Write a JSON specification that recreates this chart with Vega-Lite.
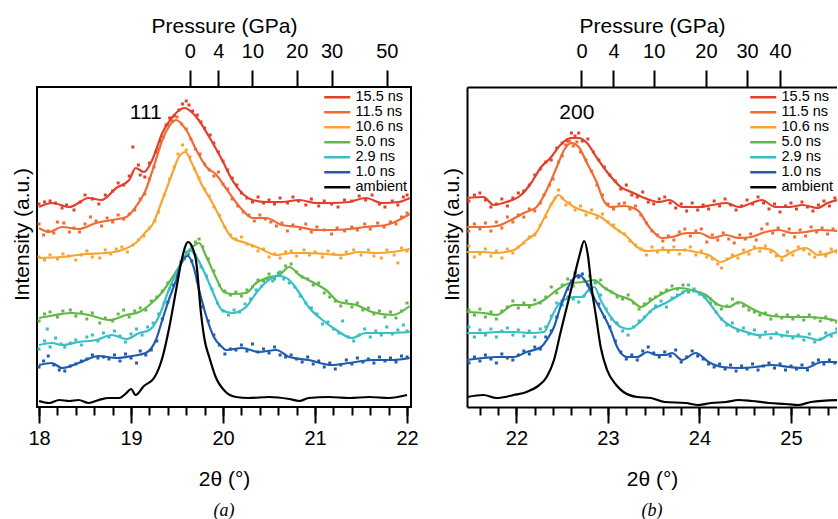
{
"$schema": "https://vega.github.io/schema/vega-lite/v6.json",
"background": "white",
"padding": {"left": 10, "top": 14, "right": 0, "bottom": 0},
"spacing": 21,
"config": {
 "font": "Liberation Sans",
 "view": {"stroke": "black", "strokeWidth": 2},
 "axis": {"grid": false, "tickColor": "black", "tickWidth": 2, "domainColor": "black", "domainWidth": 2, "labelColor": "black", "titleColor": "black", "labelFont": "Liberation Sans", "titleFont": "Liberation Sans", "labelFontSize": 20, "titleFontSize": 21, "titleFontWeight": "normal"},
 "legend": {"labelFont": "Liberation Sans", "labelFontSize": 14.5, "labelColor": "black", "symbolType": "M-3,0H3", "symbolSize": 75, "symbolStrokeWidth": 2.5, "labelOffset": 11, "rowPadding": 0, "orient": "top-right", "offset": 3, "padding": 0},
 "text": {"font": "Liberation Sans"}
},
"datasets": {
"la": [
{"s":"15.5 ns","x":18.0,"y":200},{"s":"15.5 ns","x":18.14,"y":204},{"s":"15.5 ns","x":18.33,"y":200},{"s":"15.5 ns","x":18.54,"y":209},{"s":"15.5 ns","x":18.68,"y":207},{"s":"15.5 ns","x":18.84,"y":219},{"s":"15.5 ns","x":18.98,"y":227},{"s":"15.5 ns","x":19.05,"y":239},{"s":"15.5 ns","x":19.14,"y":235},{"s":"15.5 ns","x":19.23,"y":247},{"s":"15.5 ns","x":19.34,"y":274},{"s":"15.5 ns","x":19.45,"y":290},{"s":"15.5 ns","x":19.58,"y":299},{"s":"15.5 ns","x":19.71,"y":290},{"s":"15.5 ns","x":19.85,"y":270},{"s":"15.5 ns","x":19.99,"y":247},{"s":"15.5 ns","x":20.1,"y":227},{"s":"15.5 ns","x":20.32,"y":207},{"s":"15.5 ns","x":20.47,"y":205},{"s":"15.5 ns","x":20.64,"y":205},{"s":"15.5 ns","x":20.83,"y":207},{"s":"15.5 ns","x":21.01,"y":204},{"s":"15.5 ns","x":21.18,"y":204},{"s":"15.5 ns","x":21.37,"y":205},{"s":"15.5 ns","x":21.55,"y":209},{"s":"15.5 ns","x":21.73,"y":204},{"s":"15.5 ns","x":21.91,"y":205},{"s":"15.5 ns","x":22.03,"y":209},
{"s":"11.5 ns","x":18.0,"y":179},{"s":"11.5 ns","x":18.11,"y":175},{"s":"11.5 ns","x":18.25,"y":180},{"s":"11.5 ns","x":18.43,"y":178},{"s":"11.5 ns","x":18.62,"y":184},{"s":"11.5 ns","x":18.79,"y":187},{"s":"11.5 ns","x":18.95,"y":190},{"s":"11.5 ns","x":19.05,"y":200},{"s":"11.5 ns","x":19.16,"y":217},{"s":"11.5 ns","x":19.27,"y":247},{"s":"11.5 ns","x":19.34,"y":267},{"s":"11.5 ns","x":19.41,"y":280},{"s":"11.5 ns","x":19.49,"y":287},{"s":"11.5 ns","x":19.6,"y":277},{"s":"11.5 ns","x":19.71,"y":257},{"s":"11.5 ns","x":19.82,"y":240},{"s":"11.5 ns","x":19.92,"y":233},{"s":"11.5 ns","x":20.03,"y":219},{"s":"11.5 ns","x":20.21,"y":197},{"s":"11.5 ns","x":20.32,"y":189},{"s":"11.5 ns","x":20.47,"y":189},{"s":"11.5 ns","x":20.64,"y":182},{"s":"11.5 ns","x":20.83,"y":180},{"s":"11.5 ns","x":21.01,"y":177},{"s":"11.5 ns","x":21.18,"y":177},{"s":"11.5 ns","x":21.37,"y":178},{"s":"11.5 ns","x":21.55,"y":180},{"s":"11.5 ns","x":21.77,"y":182},{"s":"11.5 ns","x":21.91,"y":187},{"s":"11.5 ns","x":22.03,"y":193},
{"s":"10.6 ns","x":18.0,"y":149},{"s":"10.6 ns","x":18.25,"y":150},{"s":"10.6 ns","x":18.51,"y":153},{"s":"10.6 ns","x":18.73,"y":154},{"s":"10.6 ns","x":18.9,"y":157},{"s":"10.6 ns","x":19.05,"y":164},{"s":"10.6 ns","x":19.16,"y":175},{"s":"10.6 ns","x":19.23,"y":182},{"s":"10.6 ns","x":19.34,"y":207},{"s":"10.6 ns","x":19.45,"y":234},{"s":"10.6 ns","x":19.52,"y":250},{"s":"10.6 ns","x":19.59,"y":255},{"s":"10.6 ns","x":19.66,"y":244},{"s":"10.6 ns","x":19.77,"y":222},{"s":"10.6 ns","x":19.88,"y":205},{"s":"10.6 ns","x":19.98,"y":187},{"s":"10.6 ns","x":20.1,"y":169},{"s":"10.6 ns","x":20.25,"y":164},{"s":"10.6 ns","x":20.39,"y":159},{"s":"10.6 ns","x":20.58,"y":152},{"s":"10.6 ns","x":20.75,"y":154},{"s":"10.6 ns","x":20.93,"y":154},{"s":"10.6 ns","x":21.12,"y":153},{"s":"10.6 ns","x":21.29,"y":152},{"s":"10.6 ns","x":21.48,"y":155},{"s":"10.6 ns","x":21.66,"y":154},{"s":"10.6 ns","x":21.84,"y":155},{"s":"10.6 ns","x":22.03,"y":158},
{"s":"5.0 ns","x":18.0,"y":89},{"s":"5.0 ns","x":18.18,"y":92},{"s":"5.0 ns","x":18.36,"y":94},{"s":"5.0 ns","x":18.54,"y":92},{"s":"5.0 ns","x":18.76,"y":87},{"s":"5.0 ns","x":18.95,"y":92},{"s":"5.0 ns","x":19.09,"y":95},{"s":"5.0 ns","x":19.2,"y":102},{"s":"5.0 ns","x":19.34,"y":115},{"s":"5.0 ns","x":19.45,"y":130},{"s":"5.0 ns","x":19.55,"y":144},{"s":"5.0 ns","x":19.66,"y":159},{"s":"5.0 ns","x":19.74,"y":164},{"s":"5.0 ns","x":19.82,"y":150},{"s":"5.0 ns","x":19.92,"y":130},{"s":"5.0 ns","x":20.01,"y":115},{"s":"5.0 ns","x":20.1,"y":113},{"s":"5.0 ns","x":20.25,"y":114},{"s":"5.0 ns","x":20.36,"y":124},{"s":"5.0 ns","x":20.47,"y":129},{"s":"5.0 ns","x":20.61,"y":132},{"s":"5.0 ns","x":20.72,"y":140},{"s":"5.0 ns","x":20.83,"y":132},{"s":"5.0 ns","x":20.97,"y":125},{"s":"5.0 ns","x":21.12,"y":117},{"s":"5.0 ns","x":21.26,"y":105},{"s":"5.0 ns","x":21.45,"y":102},{"s":"5.0 ns","x":21.62,"y":95},{"s":"5.0 ns","x":21.84,"y":92},{"s":"5.0 ns","x":22.03,"y":101},
{"s":"2.9 ns","x":18.0,"y":62},{"s":"2.9 ns","x":18.14,"y":64},{"s":"2.9 ns","x":18.25,"y":62},{"s":"2.9 ns","x":18.43,"y":65},{"s":"2.9 ns","x":18.62,"y":67},{"s":"2.9 ns","x":18.79,"y":72},{"s":"2.9 ns","x":18.95,"y":68},{"s":"2.9 ns","x":19.09,"y":74},{"s":"2.9 ns","x":19.2,"y":77},{"s":"2.9 ns","x":19.3,"y":90},{"s":"2.9 ns","x":19.41,"y":117},{"s":"2.9 ns","x":19.49,"y":134},{"s":"2.9 ns","x":19.58,"y":150},{"s":"2.9 ns","x":19.64,"y":157},{"s":"2.9 ns","x":19.71,"y":150},{"s":"2.9 ns","x":19.82,"y":130},{"s":"2.9 ns","x":19.88,"y":117},{"s":"2.9 ns","x":19.99,"y":97},{"s":"2.9 ns","x":20.1,"y":94},{"s":"2.9 ns","x":20.25,"y":100},{"s":"2.9 ns","x":20.36,"y":114},{"s":"2.9 ns","x":20.47,"y":125},{"s":"2.9 ns","x":20.61,"y":131},{"s":"2.9 ns","x":20.72,"y":127},{"s":"2.9 ns","x":20.83,"y":114},{"s":"2.9 ns","x":20.93,"y":100},{"s":"2.9 ns","x":21.08,"y":87},{"s":"2.9 ns","x":21.23,"y":77},{"s":"2.9 ns","x":21.4,"y":69},{"s":"2.9 ns","x":21.55,"y":74},{"s":"2.9 ns","x":21.77,"y":74},{"s":"2.9 ns","x":22.03,"y":75},
{"s":"1.0 ns","x":18.0,"y":42},{"s":"1.0 ns","x":18.14,"y":44},{"s":"1.0 ns","x":18.25,"y":39},{"s":"1.0 ns","x":18.43,"y":44},{"s":"1.0 ns","x":18.65,"y":51},{"s":"1.0 ns","x":18.84,"y":49},{"s":"1.0 ns","x":19.01,"y":51},{"s":"1.0 ns","x":19.16,"y":54},{"s":"1.0 ns","x":19.27,"y":67},{"s":"1.0 ns","x":19.34,"y":87},{"s":"1.0 ns","x":19.41,"y":107},{"s":"1.0 ns","x":19.49,"y":127},{"s":"1.0 ns","x":19.55,"y":145},{"s":"1.0 ns","x":19.62,"y":151},{"s":"1.0 ns","x":19.68,"y":140},{"s":"1.0 ns","x":19.74,"y":117},{"s":"1.0 ns","x":19.82,"y":90},{"s":"1.0 ns","x":19.9,"y":70},{"s":"1.0 ns","x":19.99,"y":60},{"s":"1.0 ns","x":20.03,"y":57},{"s":"1.0 ns","x":20.21,"y":59},{"s":"1.0 ns","x":20.39,"y":55},{"s":"1.0 ns","x":20.58,"y":57},{"s":"1.0 ns","x":20.72,"y":50},{"s":"1.0 ns","x":20.93,"y":47},{"s":"1.0 ns","x":21.18,"y":42},{"s":"1.0 ns","x":21.37,"y":44},{"s":"1.0 ns","x":21.62,"y":47},{"s":"1.0 ns","x":21.84,"y":47},{"s":"1.0 ns","x":22.03,"y":49},
{"s":"ambient","x":18.0,"y":6},{"s":"ambient","x":18.11,"y":4},{"s":"ambient","x":18.22,"y":7},{"s":"ambient","x":18.33,"y":6},{"s":"ambient","x":18.43,"y":7},{"s":"ambient","x":18.54,"y":4},{"s":"ambient","x":18.65,"y":7},{"s":"ambient","x":18.76,"y":9},{"s":"ambient","x":18.87,"y":9},{"s":"ambient","x":18.95,"y":14},{"s":"ambient","x":19.0,"y":18},{"s":"ambient","x":19.05,"y":12},{"s":"ambient","x":19.14,"y":21},{"s":"ambient","x":19.25,"y":29},{"s":"ambient","x":19.34,"y":49},{"s":"ambient","x":19.41,"y":77},{"s":"ambient","x":19.49,"y":117},{"s":"ambient","x":19.55,"y":147},{"s":"ambient","x":19.62,"y":165},{"s":"ambient","x":19.66,"y":161},{"s":"ambient","x":19.71,"y":144},{"s":"ambient","x":19.76,"y":94},{"s":"ambient","x":19.8,"y":67},{"s":"ambient","x":19.85,"y":50},{"s":"ambient","x":19.92,"y":30},{"s":"ambient","x":20.03,"y":15},{"s":"ambient","x":20.14,"y":10},{"s":"ambient","x":20.28,"y":9},{"s":"ambient","x":20.5,"y":10},{"s":"ambient","x":20.72,"y":8},{"s":"ambient","x":20.83,"y":6},{"s":"ambient","x":20.93,"y":9},{"s":"ambient","x":21.15,"y":10},{"s":"ambient","x":21.37,"y":9},{"s":"ambient","x":21.59,"y":10},{"s":"ambient","x":21.8,"y":9},{"s":"ambient","x":22.0,"y":12}
],
"da": [
{"s":"15.5 ns","x":18.0,"y":203},{"s":"15.5 ns","x":18.06,"y":205},{"s":"15.5 ns","x":18.12,"y":206},{"s":"15.5 ns","x":18.18,"y":204},{"s":"15.5 ns","x":18.25,"y":199},{"s":"15.5 ns","x":18.3,"y":202},{"s":"15.5 ns","x":18.38,"y":197},{"s":"15.5 ns","x":18.45,"y":205},{"s":"15.5 ns","x":18.5,"y":212},{"s":"15.5 ns","x":18.58,"y":208},{"s":"15.5 ns","x":18.65,"y":203},{"s":"15.5 ns","x":18.72,"y":212},{"s":"15.5 ns","x":18.8,"y":216},{"s":"15.5 ns","x":18.86,"y":224},{"s":"15.5 ns","x":18.92,"y":222},{"s":"15.5 ns","x":18.98,"y":231},{"s":"15.5 ns","x":19.02,"y":260},{"s":"15.5 ns","x":19.08,"y":242},{"s":"15.5 ns","x":19.1,"y":232},{"s":"15.5 ns","x":19.15,"y":230},{"s":"15.5 ns","x":19.2,"y":244},{"s":"15.5 ns","x":19.27,"y":255},{"s":"15.5 ns","x":19.32,"y":266},{"s":"15.5 ns","x":19.38,"y":282},{"s":"15.5 ns","x":19.42,"y":289},{"s":"15.5 ns","x":19.47,"y":291},{"s":"15.5 ns","x":19.52,"y":297},{"s":"15.5 ns","x":19.56,"y":303},{"s":"15.5 ns","x":19.6,"y":306},{"s":"15.5 ns","x":19.63,"y":302},{"s":"15.5 ns","x":19.67,"y":296},{"s":"15.5 ns","x":19.72,"y":292},{"s":"15.5 ns","x":19.76,"y":285},{"s":"15.5 ns","x":19.8,"y":279},{"s":"15.5 ns","x":19.86,"y":272},{"s":"15.5 ns","x":19.9,"y":264},{"s":"15.5 ns","x":19.95,"y":255},{"s":"15.5 ns","x":20.0,"y":246},{"s":"15.5 ns","x":20.05,"y":237},{"s":"15.5 ns","x":20.1,"y":229},{"s":"15.5 ns","x":20.15,"y":222},{"s":"15.5 ns","x":20.2,"y":214},{"s":"15.5 ns","x":20.26,"y":209},{"s":"15.5 ns","x":20.32,"y":205},{"s":"15.5 ns","x":20.38,"y":210},{"s":"15.5 ns","x":20.44,"y":204},{"s":"15.5 ns","x":20.5,"y":207},{"s":"15.5 ns","x":20.56,"y":203},{"s":"15.5 ns","x":20.62,"y":209},{"s":"15.5 ns","x":20.7,"y":204},{"s":"15.5 ns","x":20.76,"y":210},{"s":"15.5 ns","x":20.82,"y":206},{"s":"15.5 ns","x":20.9,"y":202},{"s":"15.5 ns","x":20.96,"y":208},{"s":"15.5 ns","x":21.04,"y":201},{"s":"15.5 ns","x":21.1,"y":206},{"s":"15.5 ns","x":21.18,"y":203},{"s":"15.5 ns","x":21.25,"y":200},{"s":"15.5 ns","x":21.32,"y":207},{"s":"15.5 ns","x":21.4,"y":206},{"s":"15.5 ns","x":21.48,"y":211},{"s":"15.5 ns","x":21.55,"y":207},{"s":"15.5 ns","x":21.62,"y":212},{"s":"15.5 ns","x":21.7,"y":203},{"s":"15.5 ns","x":21.76,"y":200},{"s":"15.5 ns","x":21.84,"y":206},{"s":"15.5 ns","x":21.9,"y":202},{"s":"15.5 ns","x":21.96,"y":210},{"s":"15.5 ns","x":22.0,"y":212},
{"s":"11.5 ns","x":18.0,"y":183},{"s":"11.5 ns","x":18.05,"y":172},{"s":"11.5 ns","x":18.1,"y":176},{"s":"11.5 ns","x":18.16,"y":174},{"s":"11.5 ns","x":18.2,"y":185},{"s":"11.5 ns","x":18.27,"y":184},{"s":"11.5 ns","x":18.33,"y":175},{"s":"11.5 ns","x":18.38,"y":179},{"s":"11.5 ns","x":18.44,"y":175},{"s":"11.5 ns","x":18.5,"y":183},{"s":"11.5 ns","x":18.56,"y":190},{"s":"11.5 ns","x":18.62,"y":186},{"s":"11.5 ns","x":18.68,"y":181},{"s":"11.5 ns","x":18.74,"y":189},{"s":"11.5 ns","x":18.8,"y":185},{"s":"11.5 ns","x":18.86,"y":192},{"s":"11.5 ns","x":18.92,"y":188},{"s":"11.5 ns","x":18.98,"y":193},{"s":"11.5 ns","x":19.04,"y":197},{"s":"11.5 ns","x":19.1,"y":208},{"s":"11.5 ns","x":19.15,"y":213},{"s":"11.5 ns","x":19.2,"y":228},{"s":"11.5 ns","x":19.25,"y":240},{"s":"11.5 ns","x":19.3,"y":258},{"s":"11.5 ns","x":19.35,"y":270},{"s":"11.5 ns","x":19.4,"y":282},{"s":"11.5 ns","x":19.45,"y":286},{"s":"11.5 ns","x":19.5,"y":290},{"s":"11.5 ns","x":19.55,"y":283},{"s":"11.5 ns","x":19.6,"y":278},{"s":"11.5 ns","x":19.65,"y":268},{"s":"11.5 ns","x":19.7,"y":258},{"s":"11.5 ns","x":19.75,"y":253},{"s":"11.5 ns","x":19.8,"y":243},{"s":"11.5 ns","x":19.85,"y":237},{"s":"11.5 ns","x":19.9,"y":231},{"s":"11.5 ns","x":19.95,"y":235},{"s":"11.5 ns","x":20.0,"y":223},{"s":"11.5 ns","x":20.05,"y":218},{"s":"11.5 ns","x":20.1,"y":208},{"s":"11.5 ns","x":20.16,"y":201},{"s":"11.5 ns","x":20.22,"y":195},{"s":"11.5 ns","x":20.28,"y":192},{"s":"11.5 ns","x":20.34,"y":186},{"s":"11.5 ns","x":20.4,"y":192},{"s":"11.5 ns","x":20.46,"y":188},{"s":"11.5 ns","x":20.52,"y":185},{"s":"11.5 ns","x":20.58,"y":181},{"s":"11.5 ns","x":20.64,"y":184},{"s":"11.5 ns","x":20.7,"y":176},{"s":"11.5 ns","x":20.76,"y":182},{"s":"11.5 ns","x":20.84,"y":178},{"s":"11.5 ns","x":20.9,"y":183},{"s":"11.5 ns","x":20.96,"y":175},{"s":"11.5 ns","x":21.02,"y":180},{"s":"11.5 ns","x":21.1,"y":177},{"s":"11.5 ns","x":21.18,"y":173},{"s":"11.5 ns","x":21.24,"y":179},{"s":"11.5 ns","x":21.32,"y":176},{"s":"11.5 ns","x":21.4,"y":180},{"s":"11.5 ns","x":21.46,"y":177},{"s":"11.5 ns","x":21.54,"y":183},{"s":"11.5 ns","x":21.6,"y":178},{"s":"11.5 ns","x":21.68,"y":184},{"s":"11.5 ns","x":21.75,"y":180},{"s":"11.5 ns","x":21.82,"y":185},{"s":"11.5 ns","x":21.88,"y":183},{"s":"11.5 ns","x":21.94,"y":190},{"s":"11.5 ns","x":22.0,"y":194},
{"s":"10.6 ns","x":18.0,"y":150},{"s":"10.6 ns","x":18.06,"y":147},{"s":"10.6 ns","x":18.12,"y":152},{"s":"10.6 ns","x":18.2,"y":148},{"s":"10.6 ns","x":18.26,"y":153},{"s":"10.6 ns","x":18.32,"y":151},{"s":"10.6 ns","x":18.4,"y":147},{"s":"10.6 ns","x":18.46,"y":152},{"s":"10.6 ns","x":18.52,"y":156},{"s":"10.6 ns","x":18.58,"y":150},{"s":"10.6 ns","x":18.66,"y":149},{"s":"10.6 ns","x":18.72,"y":157},{"s":"10.6 ns","x":18.78,"y":153},{"s":"10.6 ns","x":18.84,"y":158},{"s":"10.6 ns","x":18.9,"y":160},{"s":"10.6 ns","x":18.96,"y":155},{"s":"10.6 ns","x":19.02,"y":162},{"s":"10.6 ns","x":19.08,"y":167},{"s":"10.6 ns","x":19.14,"y":171},{"s":"10.6 ns","x":19.2,"y":179},{"s":"10.6 ns","x":19.26,"y":186},{"s":"10.6 ns","x":19.3,"y":195},{"s":"10.6 ns","x":19.36,"y":212},{"s":"10.6 ns","x":19.42,"y":228},{"s":"10.6 ns","x":19.47,"y":240},{"s":"10.6 ns","x":19.51,"y":253},{"s":"10.6 ns","x":19.56,"y":262},{"s":"10.6 ns","x":19.6,"y":257},{"s":"10.6 ns","x":19.64,"y":250},{"s":"10.6 ns","x":19.69,"y":238},{"s":"10.6 ns","x":19.74,"y":229},{"s":"10.6 ns","x":19.8,"y":218},{"s":"10.6 ns","x":19.85,"y":211},{"s":"10.6 ns","x":19.9,"y":200},{"s":"10.6 ns","x":19.96,"y":192},{"s":"10.6 ns","x":20.02,"y":180},{"s":"10.6 ns","x":20.08,"y":172},{"s":"10.6 ns","x":20.14,"y":168},{"s":"10.6 ns","x":20.2,"y":170},{"s":"10.6 ns","x":20.26,"y":163},{"s":"10.6 ns","x":20.32,"y":161},{"s":"10.6 ns","x":20.38,"y":156},{"s":"10.6 ns","x":20.44,"y":158},{"s":"10.6 ns","x":20.5,"y":150},{"s":"10.6 ns","x":20.56,"y":153},{"s":"10.6 ns","x":20.62,"y":149},{"s":"10.6 ns","x":20.68,"y":155},{"s":"10.6 ns","x":20.74,"y":156},{"s":"10.6 ns","x":20.8,"y":151},{"s":"10.6 ns","x":20.88,"y":157},{"s":"10.6 ns","x":20.94,"y":152},{"s":"10.6 ns","x":21.0,"y":155},{"s":"10.6 ns","x":21.08,"y":150},{"s":"10.6 ns","x":21.14,"y":156},{"s":"10.6 ns","x":21.2,"y":153},{"s":"10.6 ns","x":21.28,"y":149},{"s":"10.6 ns","x":21.34,"y":155},{"s":"10.6 ns","x":21.42,"y":157},{"s":"10.6 ns","x":21.5,"y":152},{"s":"10.6 ns","x":21.58,"y":157},{"s":"10.6 ns","x":21.64,"y":151},{"s":"10.6 ns","x":21.72,"y":149},{"s":"10.6 ns","x":21.78,"y":157},{"s":"10.6 ns","x":21.86,"y":152},{"s":"10.6 ns","x":21.9,"y":144},{"s":"10.6 ns","x":21.94,"y":159},{"s":"10.6 ns","x":22.0,"y":156},
{"s":"5.0 ns","x":18.0,"y":86},{"s":"5.0 ns","x":18.06,"y":93},{"s":"5.0 ns","x":18.12,"y":95},{"s":"5.0 ns","x":18.2,"y":90},{"s":"5.0 ns","x":18.26,"y":96},{"s":"5.0 ns","x":18.34,"y":97},{"s":"5.0 ns","x":18.4,"y":91},{"s":"5.0 ns","x":18.46,"y":95},{"s":"5.0 ns","x":18.52,"y":88},{"s":"5.0 ns","x":18.58,"y":94},{"s":"5.0 ns","x":18.66,"y":84},{"s":"5.0 ns","x":18.72,"y":89},{"s":"5.0 ns","x":18.8,"y":86},{"s":"5.0 ns","x":18.86,"y":93},{"s":"5.0 ns","x":18.92,"y":97},{"s":"5.0 ns","x":18.98,"y":90},{"s":"5.0 ns","x":19.04,"y":96},{"s":"5.0 ns","x":19.1,"y":99},{"s":"5.0 ns","x":19.16,"y":97},{"s":"5.0 ns","x":19.22,"y":106},{"s":"5.0 ns","x":19.28,"y":110},{"s":"5.0 ns","x":19.34,"y":116},{"s":"5.0 ns","x":19.4,"y":124},{"s":"5.0 ns","x":19.46,"y":130},{"s":"5.0 ns","x":19.52,"y":138},{"s":"5.0 ns","x":19.58,"y":148},{"s":"5.0 ns","x":19.64,"y":157},{"s":"5.0 ns","x":19.7,"y":165},{"s":"5.0 ns","x":19.74,"y":168},{"s":"5.0 ns","x":19.78,"y":160},{"s":"5.0 ns","x":19.84,"y":148},{"s":"5.0 ns","x":19.9,"y":136},{"s":"5.0 ns","x":19.96,"y":122},{"s":"5.0 ns","x":20.02,"y":116},{"s":"5.0 ns","x":20.08,"y":112},{"s":"5.0 ns","x":20.14,"y":115},{"s":"5.0 ns","x":20.2,"y":111},{"s":"5.0 ns","x":20.26,"y":117},{"s":"5.0 ns","x":20.32,"y":120},{"s":"5.0 ns","x":20.38,"y":127},{"s":"5.0 ns","x":20.44,"y":126},{"s":"5.0 ns","x":20.5,"y":133},{"s":"5.0 ns","x":20.56,"y":128},{"s":"5.0 ns","x":20.62,"y":135},{"s":"5.0 ns","x":20.68,"y":141},{"s":"5.0 ns","x":20.74,"y":143},{"s":"5.0 ns","x":20.8,"y":135},{"s":"5.0 ns","x":20.86,"y":130},{"s":"5.0 ns","x":20.92,"y":128},{"s":"5.0 ns","x":20.98,"y":122},{"s":"5.0 ns","x":21.04,"y":124},{"s":"5.0 ns","x":21.1,"y":114},{"s":"5.0 ns","x":21.16,"y":110},{"s":"5.0 ns","x":21.22,"y":106},{"s":"5.0 ns","x":21.28,"y":101},{"s":"5.0 ns","x":21.34,"y":106},{"s":"5.0 ns","x":21.4,"y":100},{"s":"5.0 ns","x":21.46,"y":104},{"s":"5.0 ns","x":21.52,"y":97},{"s":"5.0 ns","x":21.58,"y":99},{"s":"5.0 ns","x":21.64,"y":93},{"s":"5.0 ns","x":21.7,"y":96},{"s":"5.0 ns","x":21.76,"y":90},{"s":"5.0 ns","x":21.82,"y":95},{"s":"5.0 ns","x":21.88,"y":89},{"s":"5.0 ns","x":21.94,"y":96},{"s":"5.0 ns","x":22.0,"y":104},
{"s":"2.9 ns","x":18.0,"y":58},{"s":"2.9 ns","x":18.06,"y":66},{"s":"2.9 ns","x":18.09,"y":78},{"s":"2.9 ns","x":18.12,"y":60},{"s":"2.9 ns","x":18.18,"y":69},{"s":"2.9 ns","x":18.24,"y":63},{"s":"2.9 ns","x":18.28,"y":60},{"s":"2.9 ns","x":18.34,"y":64},{"s":"2.9 ns","x":18.4,"y":67},{"s":"2.9 ns","x":18.46,"y":62},{"s":"2.9 ns","x":18.52,"y":70},{"s":"2.9 ns","x":18.58,"y":72},{"s":"2.9 ns","x":18.64,"y":66},{"s":"2.9 ns","x":18.7,"y":74},{"s":"2.9 ns","x":18.76,"y":70},{"s":"2.9 ns","x":18.82,"y":76},{"s":"2.9 ns","x":18.88,"y":71},{"s":"2.9 ns","x":18.94,"y":65},{"s":"2.9 ns","x":19.0,"y":73},{"s":"2.9 ns","x":19.06,"y":78},{"s":"2.9 ns","x":19.12,"y":72},{"s":"2.9 ns","x":19.18,"y":80},{"s":"2.9 ns","x":19.24,"y":84},{"s":"2.9 ns","x":19.3,"y":93},{"s":"2.9 ns","x":19.36,"y":104},{"s":"2.9 ns","x":19.42,"y":118},{"s":"2.9 ns","x":19.48,"y":132},{"s":"2.9 ns","x":19.54,"y":145},{"s":"2.9 ns","x":19.6,"y":155},{"s":"2.9 ns","x":19.66,"y":160},{"s":"2.9 ns","x":19.7,"y":152},{"s":"2.9 ns","x":19.76,"y":140},{"s":"2.9 ns","x":19.82,"y":131},{"s":"2.9 ns","x":19.88,"y":118},{"s":"2.9 ns","x":19.94,"y":104},{"s":"2.9 ns","x":20.0,"y":96},{"s":"2.9 ns","x":20.06,"y":92},{"s":"2.9 ns","x":20.12,"y":97},{"s":"2.9 ns","x":20.18,"y":95},{"s":"2.9 ns","x":20.24,"y":103},{"s":"2.9 ns","x":20.3,"y":108},{"s":"2.9 ns","x":20.36,"y":117},{"s":"2.9 ns","x":20.42,"y":121},{"s":"2.9 ns","x":20.48,"y":128},{"s":"2.9 ns","x":20.54,"y":126},{"s":"2.9 ns","x":20.6,"y":134},{"s":"2.9 ns","x":20.66,"y":128},{"s":"2.9 ns","x":20.72,"y":124},{"s":"2.9 ns","x":20.78,"y":120},{"s":"2.9 ns","x":20.84,"y":111},{"s":"2.9 ns","x":20.9,"y":104},{"s":"2.9 ns","x":20.96,"y":99},{"s":"2.9 ns","x":21.02,"y":93},{"s":"2.9 ns","x":21.08,"y":83},{"s":"2.9 ns","x":21.14,"y":85},{"s":"2.9 ns","x":21.2,"y":78},{"s":"2.9 ns","x":21.26,"y":74},{"s":"2.9 ns","x":21.3,"y":86},{"s":"2.9 ns","x":21.36,"y":70},{"s":"2.9 ns","x":21.42,"y":66},{"s":"2.9 ns","x":21.48,"y":72},{"s":"2.9 ns","x":21.54,"y":78},{"s":"2.9 ns","x":21.6,"y":70},{"s":"2.9 ns","x":21.66,"y":76},{"s":"2.9 ns","x":21.72,"y":72},{"s":"2.9 ns","x":21.78,"y":80},{"s":"2.9 ns","x":21.84,"y":73},{"s":"2.9 ns","x":21.9,"y":77},{"s":"2.9 ns","x":21.96,"y":82},{"s":"2.9 ns","x":22.0,"y":76},
{"s":"1.0 ns","x":18.0,"y":40},{"s":"1.0 ns","x":18.05,"y":46},{"s":"1.0 ns","x":18.1,"y":51},{"s":"1.0 ns","x":18.16,"y":42},{"s":"1.0 ns","x":18.22,"y":37},{"s":"1.0 ns","x":18.28,"y":36},{"s":"1.0 ns","x":18.34,"y":41},{"s":"1.0 ns","x":18.4,"y":43},{"s":"1.0 ns","x":18.46,"y":46},{"s":"1.0 ns","x":18.52,"y":48},{"s":"1.0 ns","x":18.58,"y":52},{"s":"1.0 ns","x":18.64,"y":49},{"s":"1.0 ns","x":18.7,"y":50},{"s":"1.0 ns","x":18.76,"y":48},{"s":"1.0 ns","x":18.82,"y":52},{"s":"1.0 ns","x":18.88,"y":46},{"s":"1.0 ns","x":18.94,"y":53},{"s":"1.0 ns","x":19.0,"y":49},{"s":"1.0 ns","x":19.06,"y":44},{"s":"1.0 ns","x":19.1,"y":56},{"s":"1.0 ns","x":19.16,"y":52},{"s":"1.0 ns","x":19.22,"y":57},{"s":"1.0 ns","x":19.28,"y":66},{"s":"1.0 ns","x":19.34,"y":88},{"s":"1.0 ns","x":19.4,"y":105},{"s":"1.0 ns","x":19.46,"y":122},{"s":"1.0 ns","x":19.52,"y":138},{"s":"1.0 ns","x":19.58,"y":150},{"s":"1.0 ns","x":19.62,"y":153},{"s":"1.0 ns","x":19.66,"y":146},{"s":"1.0 ns","x":19.72,"y":126},{"s":"1.0 ns","x":19.78,"y":100},{"s":"1.0 ns","x":19.84,"y":86},{"s":"1.0 ns","x":19.9,"y":72},{"s":"1.0 ns","x":19.96,"y":62},{"s":"1.0 ns","x":20.02,"y":53},{"s":"1.0 ns","x":20.08,"y":58},{"s":"1.0 ns","x":20.14,"y":57},{"s":"1.0 ns","x":20.2,"y":62},{"s":"1.0 ns","x":20.26,"y":56},{"s":"1.0 ns","x":20.32,"y":63},{"s":"1.0 ns","x":20.38,"y":55},{"s":"1.0 ns","x":20.44,"y":58},{"s":"1.0 ns","x":20.5,"y":54},{"s":"1.0 ns","x":20.56,"y":60},{"s":"1.0 ns","x":20.62,"y":52},{"s":"1.0 ns","x":20.68,"y":50},{"s":"1.0 ns","x":20.74,"y":52},{"s":"1.0 ns","x":20.8,"y":48},{"s":"1.0 ns","x":20.86,"y":45},{"s":"1.0 ns","x":20.92,"y":50},{"s":"1.0 ns","x":20.98,"y":43},{"s":"1.0 ns","x":21.04,"y":46},{"s":"1.0 ns","x":21.1,"y":40},{"s":"1.0 ns","x":21.16,"y":44},{"s":"1.0 ns","x":21.22,"y":38},{"s":"1.0 ns","x":21.28,"y":42},{"s":"1.0 ns","x":21.34,"y":47},{"s":"1.0 ns","x":21.4,"y":43},{"s":"1.0 ns","x":21.46,"y":49},{"s":"1.0 ns","x":21.52,"y":45},{"s":"1.0 ns","x":21.58,"y":48},{"s":"1.0 ns","x":21.64,"y":44},{"s":"1.0 ns","x":21.7,"y":50},{"s":"1.0 ns","x":21.76,"y":46},{"s":"1.0 ns","x":21.82,"y":49},{"s":"1.0 ns","x":21.88,"y":45},{"s":"1.0 ns","x":21.94,"y":51},{"s":"1.0 ns","x":22.0,"y":50}
],
"lb": [
{"s":"15.5 ns","x":21.46,"y":209},{"s":"15.5 ns","x":21.64,"y":210},{"s":"15.5 ns","x":21.75,"y":202},{"s":"15.5 ns","x":21.89,"y":205},{"s":"15.5 ns","x":22.05,"y":212},{"s":"15.5 ns","x":22.16,"y":224},{"s":"15.5 ns","x":22.27,"y":240},{"s":"15.5 ns","x":22.37,"y":249},{"s":"15.5 ns","x":22.48,"y":262},{"s":"15.5 ns","x":22.59,"y":269},{"s":"15.5 ns","x":22.68,"y":269},{"s":"15.5 ns","x":22.77,"y":264},{"s":"15.5 ns","x":22.88,"y":249},{"s":"15.5 ns","x":22.99,"y":235},{"s":"15.5 ns","x":23.14,"y":220},{"s":"15.5 ns","x":23.28,"y":214},{"s":"15.5 ns","x":23.43,"y":208},{"s":"15.5 ns","x":23.56,"y":205},{"s":"15.5 ns","x":23.67,"y":207},{"s":"15.5 ns","x":23.81,"y":200},{"s":"15.5 ns","x":24.0,"y":200},{"s":"15.5 ns","x":24.14,"y":202},{"s":"15.5 ns","x":24.29,"y":204},{"s":"15.5 ns","x":24.43,"y":200},{"s":"15.5 ns","x":24.57,"y":204},{"s":"15.5 ns","x":24.68,"y":207},{"s":"15.5 ns","x":24.83,"y":200},{"s":"15.5 ns","x":24.98,"y":200},{"s":"15.5 ns","x":25.13,"y":202},{"s":"15.5 ns","x":25.29,"y":199},{"s":"15.5 ns","x":25.4,"y":204},{"s":"15.5 ns","x":25.51,"y":207},
{"s":"11.5 ns","x":21.46,"y":180},{"s":"11.5 ns","x":21.64,"y":180},{"s":"11.5 ns","x":21.78,"y":181},{"s":"11.5 ns","x":21.94,"y":187},{"s":"11.5 ns","x":22.08,"y":194},{"s":"11.5 ns","x":22.22,"y":200},{"s":"11.5 ns","x":22.33,"y":217},{"s":"11.5 ns","x":22.44,"y":240},{"s":"11.5 ns","x":22.52,"y":257},{"s":"11.5 ns","x":22.6,"y":264},{"s":"11.5 ns","x":22.68,"y":260},{"s":"11.5 ns","x":22.77,"y":244},{"s":"11.5 ns","x":22.88,"y":224},{"s":"11.5 ns","x":22.95,"y":207},{"s":"11.5 ns","x":23.03,"y":200},{"s":"11.5 ns","x":23.17,"y":201},{"s":"11.5 ns","x":23.32,"y":197},{"s":"11.5 ns","x":23.45,"y":180},{"s":"11.5 ns","x":23.59,"y":169},{"s":"11.5 ns","x":23.7,"y":170},{"s":"11.5 ns","x":23.86,"y":174},{"s":"11.5 ns","x":24.0,"y":174},{"s":"11.5 ns","x":24.14,"y":169},{"s":"11.5 ns","x":24.29,"y":172},{"s":"11.5 ns","x":24.43,"y":169},{"s":"11.5 ns","x":24.57,"y":170},{"s":"11.5 ns","x":24.72,"y":175},{"s":"11.5 ns","x":24.87,"y":177},{"s":"11.5 ns","x":25.01,"y":174},{"s":"11.5 ns","x":25.16,"y":175},{"s":"11.5 ns","x":25.3,"y":177},{"s":"11.5 ns","x":25.51,"y":176},
{"s":"10.6 ns","x":21.46,"y":155},{"s":"10.6 ns","x":21.64,"y":155},{"s":"10.6 ns","x":21.78,"y":154},{"s":"10.6 ns","x":21.97,"y":157},{"s":"10.6 ns","x":22.11,"y":167},{"s":"10.6 ns","x":22.22,"y":175},{"s":"10.6 ns","x":22.33,"y":194},{"s":"10.6 ns","x":22.41,"y":207},{"s":"10.6 ns","x":22.46,"y":212},{"s":"10.6 ns","x":22.52,"y":207},{"s":"10.6 ns","x":22.63,"y":200},{"s":"10.6 ns","x":22.77,"y":195},{"s":"10.6 ns","x":22.92,"y":190},{"s":"10.6 ns","x":23.06,"y":180},{"s":"10.6 ns","x":23.21,"y":170},{"s":"10.6 ns","x":23.32,"y":160},{"s":"10.6 ns","x":23.43,"y":156},{"s":"10.6 ns","x":23.61,"y":157},{"s":"10.6 ns","x":23.81,"y":157},{"s":"10.6 ns","x":23.96,"y":155},{"s":"10.6 ns","x":24.1,"y":152},{"s":"10.6 ns","x":24.23,"y":145},{"s":"10.6 ns","x":24.36,"y":150},{"s":"10.6 ns","x":24.51,"y":155},{"s":"10.6 ns","x":24.65,"y":159},{"s":"10.6 ns","x":24.79,"y":157},{"s":"10.6 ns","x":24.9,"y":150},{"s":"10.6 ns","x":25.01,"y":155},{"s":"10.6 ns","x":25.16,"y":159},{"s":"10.6 ns","x":25.3,"y":152},{"s":"10.6 ns","x":25.51,"y":157},
{"s":"5.0 ns","x":21.46,"y":95},{"s":"5.0 ns","x":21.64,"y":94},{"s":"5.0 ns","x":21.78,"y":92},{"s":"5.0 ns","x":21.97,"y":102},{"s":"5.0 ns","x":22.16,"y":102},{"s":"5.0 ns","x":22.3,"y":107},{"s":"5.0 ns","x":22.44,"y":117},{"s":"5.0 ns","x":22.59,"y":124},{"s":"5.0 ns","x":22.74,"y":125},{"s":"5.0 ns","x":22.85,"y":127},{"s":"5.0 ns","x":22.95,"y":120},{"s":"5.0 ns","x":23.1,"y":112},{"s":"5.0 ns","x":23.25,"y":107},{"s":"5.0 ns","x":23.36,"y":100},{"s":"5.0 ns","x":23.48,"y":107},{"s":"5.0 ns","x":23.63,"y":115},{"s":"5.0 ns","x":23.78,"y":119},{"s":"5.0 ns","x":23.92,"y":117},{"s":"5.0 ns","x":24.07,"y":112},{"s":"5.0 ns","x":24.21,"y":102},{"s":"5.0 ns","x":24.32,"y":100},{"s":"5.0 ns","x":24.43,"y":105},{"s":"5.0 ns","x":24.54,"y":100},{"s":"5.0 ns","x":24.65,"y":95},{"s":"5.0 ns","x":24.79,"y":91},{"s":"5.0 ns","x":24.98,"y":90},{"s":"5.0 ns","x":25.16,"y":90},{"s":"5.0 ns","x":25.34,"y":89},{"s":"5.0 ns","x":25.51,"y":86},
{"s":"2.9 ns","x":21.46,"y":74},{"s":"2.9 ns","x":21.64,"y":74},{"s":"2.9 ns","x":21.78,"y":75},{"s":"2.9 ns","x":21.97,"y":75},{"s":"2.9 ns","x":22.16,"y":74},{"s":"2.9 ns","x":22.3,"y":75},{"s":"2.9 ns","x":22.37,"y":87},{"s":"2.9 ns","x":22.44,"y":100},{"s":"2.9 ns","x":22.52,"y":107},{"s":"2.9 ns","x":22.63,"y":110},{"s":"2.9 ns","x":22.71,"y":110},{"s":"2.9 ns","x":22.79,"y":117},{"s":"2.9 ns","x":22.85,"y":120},{"s":"2.9 ns","x":22.92,"y":107},{"s":"2.9 ns","x":23.03,"y":90},{"s":"2.9 ns","x":23.14,"y":80},{"s":"2.9 ns","x":23.23,"y":78},{"s":"2.9 ns","x":23.34,"y":84},{"s":"2.9 ns","x":23.48,"y":97},{"s":"2.9 ns","x":23.63,"y":104},{"s":"2.9 ns","x":23.78,"y":112},{"s":"2.9 ns","x":23.88,"y":117},{"s":"2.9 ns","x":24.03,"y":112},{"s":"2.9 ns","x":24.14,"y":100},{"s":"2.9 ns","x":24.25,"y":87},{"s":"2.9 ns","x":24.36,"y":80},{"s":"2.9 ns","x":24.51,"y":75},{"s":"2.9 ns","x":24.65,"y":72},{"s":"2.9 ns","x":24.79,"y":73},{"s":"2.9 ns","x":24.98,"y":71},{"s":"2.9 ns","x":25.16,"y":70},{"s":"2.9 ns","x":25.3,"y":67},{"s":"2.9 ns","x":25.41,"y":72},{"s":"2.9 ns","x":25.51,"y":75},
{"s":"1.0 ns","x":21.46,"y":47},{"s":"1.0 ns","x":21.64,"y":49},{"s":"1.0 ns","x":21.78,"y":50},{"s":"1.0 ns","x":21.97,"y":50},{"s":"1.0 ns","x":22.11,"y":55},{"s":"1.0 ns","x":22.27,"y":60},{"s":"1.0 ns","x":22.33,"y":67},{"s":"1.0 ns","x":22.41,"y":80},{"s":"1.0 ns","x":22.48,"y":100},{"s":"1.0 ns","x":22.55,"y":117},{"s":"1.0 ns","x":22.63,"y":129},{"s":"1.0 ns","x":22.68,"y":132},{"s":"1.0 ns","x":22.76,"y":125},{"s":"1.0 ns","x":22.82,"y":114},{"s":"1.0 ns","x":22.92,"y":97},{"s":"1.0 ns","x":23.03,"y":77},{"s":"1.0 ns","x":23.1,"y":60},{"s":"1.0 ns","x":23.21,"y":50},{"s":"1.0 ns","x":23.32,"y":50},{"s":"1.0 ns","x":23.43,"y":55},{"s":"1.0 ns","x":23.53,"y":52},{"s":"1.0 ns","x":23.63,"y":52},{"s":"1.0 ns","x":23.7,"y":54},{"s":"1.0 ns","x":23.81,"y":47},{"s":"1.0 ns","x":23.96,"y":54},{"s":"1.0 ns","x":24.1,"y":45},{"s":"1.0 ns","x":24.25,"y":40},{"s":"1.0 ns","x":24.43,"y":39},{"s":"1.0 ns","x":24.61,"y":40},{"s":"1.0 ns","x":24.79,"y":42},{"s":"1.0 ns","x":24.98,"y":40},{"s":"1.0 ns","x":25.16,"y":39},{"s":"1.0 ns","x":25.34,"y":45},{"s":"1.0 ns","x":25.51,"y":45},
{"s":"ambient","x":21.46,"y":10},{"s":"ambient","x":21.64,"y":12},{"s":"ambient","x":21.78,"y":9},{"s":"ambient","x":21.97,"y":12},{"s":"ambient","x":22.11,"y":15},{"s":"ambient","x":22.22,"y":20},{"s":"ambient","x":22.33,"y":30},{"s":"ambient","x":22.41,"y":47},{"s":"ambient","x":22.48,"y":74},{"s":"ambient","x":22.55,"y":100},{"s":"ambient","x":22.63,"y":130},{"s":"ambient","x":22.69,"y":152},{"s":"ambient","x":22.74,"y":166},{"s":"ambient","x":22.78,"y":152},{"s":"ambient","x":22.82,"y":120},{"s":"ambient","x":22.87,"y":90},{"s":"ambient","x":22.92,"y":60},{"s":"ambient","x":22.99,"y":37},{"s":"ambient","x":23.09,"y":22},{"s":"ambient","x":23.17,"y":15},{"s":"ambient","x":23.32,"y":10},{"s":"ambient","x":23.47,"y":9},{"s":"ambient","x":23.62,"y":5},{"s":"ambient","x":23.85,"y":4},{"s":"ambient","x":23.99,"y":2},{"s":"ambient","x":24.13,"y":4},{"s":"ambient","x":24.29,"y":5},{"s":"ambient","x":24.43,"y":7},{"s":"ambient","x":24.57,"y":6},{"s":"ambient","x":24.76,"y":4},{"s":"ambient","x":24.94,"y":3},{"s":"ambient","x":25.08,"y":2},{"s":"ambient","x":25.22,"y":5},{"s":"ambient","x":25.51,"y":7}
],
"db": [
{"s":"15.5 ns","x":21.48,"y":206},{"s":"15.5 ns","x":21.54,"y":212},{"s":"15.5 ns","x":21.6,"y":214},{"s":"15.5 ns","x":21.66,"y":207},{"s":"15.5 ns","x":21.72,"y":200},{"s":"15.5 ns","x":21.78,"y":203},{"s":"15.5 ns","x":21.84,"y":208},{"s":"15.5 ns","x":21.9,"y":201},{"s":"15.5 ns","x":21.96,"y":209},{"s":"15.5 ns","x":22.02,"y":214},{"s":"15.5 ns","x":22.08,"y":216},{"s":"15.5 ns","x":22.14,"y":222},{"s":"15.5 ns","x":22.2,"y":232},{"s":"15.5 ns","x":22.26,"y":238},{"s":"15.5 ns","x":22.32,"y":245},{"s":"15.5 ns","x":22.38,"y":247},{"s":"15.5 ns","x":22.44,"y":259},{"s":"15.5 ns","x":22.5,"y":264},{"s":"15.5 ns","x":22.56,"y":266},{"s":"15.5 ns","x":22.6,"y":274},{"s":"15.5 ns","x":22.64,"y":271},{"s":"15.5 ns","x":22.68,"y":274},{"s":"15.5 ns","x":22.72,"y":266},{"s":"15.5 ns","x":22.78,"y":268},{"s":"15.5 ns","x":22.84,"y":255},{"s":"15.5 ns","x":22.9,"y":247},{"s":"15.5 ns","x":22.96,"y":240},{"s":"15.5 ns","x":23.02,"y":232},{"s":"15.5 ns","x":23.08,"y":226},{"s":"15.5 ns","x":23.14,"y":218},{"s":"15.5 ns","x":23.2,"y":222},{"s":"15.5 ns","x":23.26,"y":212},{"s":"15.5 ns","x":23.32,"y":210},{"s":"15.5 ns","x":23.38,"y":215},{"s":"15.5 ns","x":23.44,"y":205},{"s":"15.5 ns","x":23.5,"y":203},{"s":"15.5 ns","x":23.56,"y":208},{"s":"15.5 ns","x":23.62,"y":210},{"s":"15.5 ns","x":23.68,"y":204},{"s":"15.5 ns","x":23.74,"y":199},{"s":"15.5 ns","x":23.8,"y":203},{"s":"15.5 ns","x":23.86,"y":196},{"s":"15.5 ns","x":23.92,"y":204},{"s":"15.5 ns","x":23.98,"y":197},{"s":"15.5 ns","x":24.04,"y":202},{"s":"15.5 ns","x":24.1,"y":198},{"s":"15.5 ns","x":24.16,"y":206},{"s":"15.5 ns","x":24.22,"y":201},{"s":"15.5 ns","x":24.28,"y":208},{"s":"15.5 ns","x":24.34,"y":202},{"s":"15.5 ns","x":24.4,"y":197},{"s":"15.5 ns","x":24.46,"y":201},{"s":"15.5 ns","x":24.52,"y":207},{"s":"15.5 ns","x":24.58,"y":203},{"s":"15.5 ns","x":24.64,"y":210},{"s":"15.5 ns","x":24.7,"y":204},{"s":"15.5 ns","x":24.76,"y":198},{"s":"15.5 ns","x":24.82,"y":203},{"s":"15.5 ns","x":24.88,"y":195},{"s":"15.5 ns","x":24.94,"y":201},{"s":"15.5 ns","x":25.0,"y":204},{"s":"15.5 ns","x":25.06,"y":198},{"s":"15.5 ns","x":25.12,"y":205},{"s":"15.5 ns","x":25.18,"y":200},{"s":"15.5 ns","x":25.24,"y":196},{"s":"15.5 ns","x":25.3,"y":202},{"s":"15.5 ns","x":25.36,"y":206},{"s":"15.5 ns","x":25.42,"y":201},{"s":"15.5 ns","x":25.48,"y":209},
{"s":"11.5 ns","x":21.48,"y":176},{"s":"11.5 ns","x":21.54,"y":183},{"s":"11.5 ns","x":21.6,"y":178},{"s":"11.5 ns","x":21.66,"y":184},{"s":"11.5 ns","x":21.72,"y":176},{"s":"11.5 ns","x":21.78,"y":185},{"s":"11.5 ns","x":21.84,"y":179},{"s":"11.5 ns","x":21.9,"y":190},{"s":"11.5 ns","x":21.96,"y":185},{"s":"11.5 ns","x":22.02,"y":192},{"s":"11.5 ns","x":22.08,"y":190},{"s":"11.5 ns","x":22.14,"y":198},{"s":"11.5 ns","x":22.2,"y":196},{"s":"11.5 ns","x":22.26,"y":204},{"s":"11.5 ns","x":22.3,"y":212},{"s":"11.5 ns","x":22.36,"y":222},{"s":"11.5 ns","x":22.4,"y":228},{"s":"11.5 ns","x":22.46,"y":245},{"s":"11.5 ns","x":22.5,"y":251},{"s":"11.5 ns","x":22.54,"y":262},{"s":"11.5 ns","x":22.58,"y":266},{"s":"11.5 ns","x":22.62,"y":261},{"s":"11.5 ns","x":22.66,"y":265},{"s":"11.5 ns","x":22.7,"y":255},{"s":"11.5 ns","x":22.76,"y":247},{"s":"11.5 ns","x":22.82,"y":236},{"s":"11.5 ns","x":22.88,"y":222},{"s":"11.5 ns","x":22.94,"y":212},{"s":"11.5 ns","x":23.0,"y":203},{"s":"11.5 ns","x":23.06,"y":198},{"s":"11.5 ns","x":23.12,"y":203},{"s":"11.5 ns","x":23.18,"y":204},{"s":"11.5 ns","x":23.24,"y":198},{"s":"11.5 ns","x":23.3,"y":201},{"s":"11.5 ns","x":23.36,"y":192},{"s":"11.5 ns","x":23.42,"y":184},{"s":"11.5 ns","x":23.48,"y":176},{"s":"11.5 ns","x":23.54,"y":172},{"s":"11.5 ns","x":23.6,"y":166},{"s":"11.5 ns","x":23.66,"y":171},{"s":"11.5 ns","x":23.72,"y":167},{"s":"11.5 ns","x":23.78,"y":175},{"s":"11.5 ns","x":23.84,"y":178},{"s":"11.5 ns","x":23.9,"y":171},{"s":"11.5 ns","x":23.96,"y":176},{"s":"11.5 ns","x":24.02,"y":178},{"s":"11.5 ns","x":24.08,"y":165},{"s":"11.5 ns","x":24.14,"y":172},{"s":"11.5 ns","x":24.2,"y":167},{"s":"11.5 ns","x":24.26,"y":174},{"s":"11.5 ns","x":24.32,"y":168},{"s":"11.5 ns","x":24.38,"y":164},{"s":"11.5 ns","x":24.44,"y":172},{"s":"11.5 ns","x":24.5,"y":168},{"s":"11.5 ns","x":24.56,"y":173},{"s":"11.5 ns","x":24.62,"y":167},{"s":"11.5 ns","x":24.68,"y":178},{"s":"11.5 ns","x":24.74,"y":183},{"s":"11.5 ns","x":24.8,"y":174},{"s":"11.5 ns","x":24.86,"y":179},{"s":"11.5 ns","x":24.92,"y":172},{"s":"11.5 ns","x":24.98,"y":178},{"s":"11.5 ns","x":25.04,"y":170},{"s":"11.5 ns","x":25.1,"y":177},{"s":"11.5 ns","x":25.16,"y":171},{"s":"11.5 ns","x":25.22,"y":180},{"s":"11.5 ns","x":25.28,"y":175},{"s":"11.5 ns","x":25.34,"y":179},{"s":"11.5 ns","x":25.4,"y":173},{"s":"11.5 ns","x":25.46,"y":178},
{"s":"10.6 ns","x":21.48,"y":161},{"s":"10.6 ns","x":21.54,"y":150},{"s":"10.6 ns","x":21.6,"y":153},{"s":"10.6 ns","x":21.66,"y":158},{"s":"10.6 ns","x":21.72,"y":151},{"s":"10.6 ns","x":21.78,"y":156},{"s":"10.6 ns","x":21.84,"y":149},{"s":"10.6 ns","x":21.9,"y":158},{"s":"10.6 ns","x":21.96,"y":154},{"s":"10.6 ns","x":22.02,"y":160},{"s":"10.6 ns","x":22.08,"y":164},{"s":"10.6 ns","x":22.14,"y":170},{"s":"10.6 ns","x":22.2,"y":172},{"s":"10.6 ns","x":22.26,"y":182},{"s":"10.6 ns","x":22.32,"y":190},{"s":"10.6 ns","x":22.38,"y":203},{"s":"10.6 ns","x":22.42,"y":209},{"s":"10.6 ns","x":22.46,"y":217},{"s":"10.6 ns","x":22.5,"y":209},{"s":"10.6 ns","x":22.54,"y":202},{"s":"10.6 ns","x":22.58,"y":204},{"s":"10.6 ns","x":22.64,"y":197},{"s":"10.6 ns","x":22.7,"y":201},{"s":"10.6 ns","x":22.76,"y":192},{"s":"10.6 ns","x":22.82,"y":197},{"s":"10.6 ns","x":22.88,"y":189},{"s":"10.6 ns","x":22.94,"y":193},{"s":"10.6 ns","x":23.0,"y":185},{"s":"10.6 ns","x":23.06,"y":182},{"s":"10.6 ns","x":23.12,"y":176},{"s":"10.6 ns","x":23.18,"y":173},{"s":"10.6 ns","x":23.24,"y":166},{"s":"10.6 ns","x":23.3,"y":162},{"s":"10.6 ns","x":23.36,"y":158},{"s":"10.6 ns","x":23.42,"y":152},{"s":"10.6 ns","x":23.48,"y":160},{"s":"10.6 ns","x":23.54,"y":155},{"s":"10.6 ns","x":23.6,"y":159},{"s":"10.6 ns","x":23.66,"y":155},{"s":"10.6 ns","x":23.72,"y":160},{"s":"10.6 ns","x":23.78,"y":153},{"s":"10.6 ns","x":23.84,"y":157},{"s":"10.6 ns","x":23.9,"y":160},{"s":"10.6 ns","x":23.96,"y":152},{"s":"10.6 ns","x":24.02,"y":156},{"s":"10.6 ns","x":24.08,"y":150},{"s":"10.6 ns","x":24.14,"y":148},{"s":"10.6 ns","x":24.2,"y":143},{"s":"10.6 ns","x":24.24,"y":139},{"s":"10.6 ns","x":24.3,"y":148},{"s":"10.6 ns","x":24.36,"y":152},{"s":"10.6 ns","x":24.42,"y":149},{"s":"10.6 ns","x":24.48,"y":157},{"s":"10.6 ns","x":24.54,"y":153},{"s":"10.6 ns","x":24.6,"y":160},{"s":"10.6 ns","x":24.66,"y":156},{"s":"10.6 ns","x":24.72,"y":161},{"s":"10.6 ns","x":24.78,"y":155},{"s":"10.6 ns","x":24.84,"y":151},{"s":"10.6 ns","x":24.9,"y":147},{"s":"10.6 ns","x":24.96,"y":156},{"s":"10.6 ns","x":25.02,"y":152},{"s":"10.6 ns","x":25.08,"y":160},{"s":"10.6 ns","x":25.14,"y":157},{"s":"10.6 ns","x":25.2,"y":153},{"s":"10.6 ns","x":25.26,"y":150},{"s":"10.6 ns","x":25.32,"y":155},{"s":"10.6 ns","x":25.38,"y":151},{"s":"10.6 ns","x":25.44,"y":158},{"s":"10.6 ns","x":25.5,"y":155},
{"s":"5.0 ns","x":21.48,"y":97},{"s":"5.0 ns","x":21.54,"y":92},{"s":"5.0 ns","x":21.6,"y":98},{"s":"5.0 ns","x":21.66,"y":90},{"s":"5.0 ns","x":21.72,"y":95},{"s":"5.0 ns","x":21.78,"y":88},{"s":"5.0 ns","x":21.84,"y":96},{"s":"5.0 ns","x":21.9,"y":100},{"s":"5.0 ns","x":21.96,"y":106},{"s":"5.0 ns","x":22.02,"y":99},{"s":"5.0 ns","x":22.08,"y":104},{"s":"5.0 ns","x":22.14,"y":100},{"s":"5.0 ns","x":22.2,"y":107},{"s":"5.0 ns","x":22.26,"y":104},{"s":"5.0 ns","x":22.32,"y":110},{"s":"5.0 ns","x":22.38,"y":120},{"s":"5.0 ns","x":22.44,"y":114},{"s":"5.0 ns","x":22.5,"y":122},{"s":"5.0 ns","x":22.56,"y":128},{"s":"5.0 ns","x":22.62,"y":121},{"s":"5.0 ns","x":22.68,"y":130},{"s":"5.0 ns","x":22.74,"y":127},{"s":"5.0 ns","x":22.8,"y":131},{"s":"5.0 ns","x":22.86,"y":125},{"s":"5.0 ns","x":22.92,"y":127},{"s":"5.0 ns","x":22.98,"y":118},{"s":"5.0 ns","x":23.04,"y":115},{"s":"5.0 ns","x":23.1,"y":110},{"s":"5.0 ns","x":23.16,"y":108},{"s":"5.0 ns","x":23.22,"y":112},{"s":"5.0 ns","x":23.28,"y":104},{"s":"5.0 ns","x":23.34,"y":98},{"s":"5.0 ns","x":23.4,"y":103},{"s":"5.0 ns","x":23.46,"y":108},{"s":"5.0 ns","x":23.52,"y":110},{"s":"5.0 ns","x":23.58,"y":114},{"s":"5.0 ns","x":23.64,"y":117},{"s":"5.0 ns","x":23.7,"y":121},{"s":"5.0 ns","x":23.76,"y":118},{"s":"5.0 ns","x":23.82,"y":122},{"s":"5.0 ns","x":23.88,"y":115},{"s":"5.0 ns","x":23.94,"y":118},{"s":"5.0 ns","x":24.0,"y":113},{"s":"5.0 ns","x":24.06,"y":110},{"s":"5.0 ns","x":24.12,"y":108},{"s":"5.0 ns","x":24.18,"y":103},{"s":"5.0 ns","x":24.24,"y":98},{"s":"5.0 ns","x":24.3,"y":101},{"s":"5.0 ns","x":24.36,"y":108},{"s":"5.0 ns","x":24.42,"y":104},{"s":"5.0 ns","x":24.48,"y":101},{"s":"5.0 ns","x":24.54,"y":97},{"s":"5.0 ns","x":24.6,"y":95},{"s":"5.0 ns","x":24.66,"y":92},{"s":"5.0 ns","x":24.72,"y":94},{"s":"5.0 ns","x":24.78,"y":88},{"s":"5.0 ns","x":24.84,"y":92},{"s":"5.0 ns","x":24.9,"y":89},{"s":"5.0 ns","x":24.96,"y":92},{"s":"5.0 ns","x":25.02,"y":88},{"s":"5.0 ns","x":25.08,"y":91},{"s":"5.0 ns","x":25.14,"y":87},{"s":"5.0 ns","x":25.2,"y":92},{"s":"5.0 ns","x":25.26,"y":89},{"s":"5.0 ns","x":25.32,"y":86},{"s":"5.0 ns","x":25.38,"y":90},{"s":"5.0 ns","x":25.44,"y":87},{"s":"5.0 ns","x":25.5,"y":85},
{"s":"2.9 ns","x":21.48,"y":80},{"s":"2.9 ns","x":21.54,"y":70},{"s":"2.9 ns","x":21.6,"y":77},{"s":"2.9 ns","x":21.66,"y":72},{"s":"2.9 ns","x":21.72,"y":78},{"s":"2.9 ns","x":21.78,"y":70},{"s":"2.9 ns","x":21.84,"y":76},{"s":"2.9 ns","x":21.9,"y":79},{"s":"2.9 ns","x":21.96,"y":72},{"s":"2.9 ns","x":22.02,"y":77},{"s":"2.9 ns","x":22.08,"y":71},{"s":"2.9 ns","x":22.14,"y":76},{"s":"2.9 ns","x":22.2,"y":70},{"s":"2.9 ns","x":22.26,"y":78},{"s":"2.9 ns","x":22.32,"y":80},{"s":"2.9 ns","x":22.38,"y":91},{"s":"2.9 ns","x":22.44,"y":104},{"s":"2.9 ns","x":22.5,"y":102},{"s":"2.9 ns","x":22.56,"y":110},{"s":"2.9 ns","x":22.62,"y":108},{"s":"2.9 ns","x":22.68,"y":105},{"s":"2.9 ns","x":22.74,"y":111},{"s":"2.9 ns","x":22.8,"y":122},{"s":"2.9 ns","x":22.86,"y":124},{"s":"2.9 ns","x":22.92,"y":112},{"s":"2.9 ns","x":22.98,"y":98},{"s":"2.9 ns","x":23.04,"y":88},{"s":"2.9 ns","x":23.1,"y":84},{"s":"2.9 ns","x":23.16,"y":76},{"s":"2.9 ns","x":23.22,"y":72},{"s":"2.9 ns","x":23.28,"y":80},{"s":"2.9 ns","x":23.34,"y":86},{"s":"2.9 ns","x":23.4,"y":90},{"s":"2.9 ns","x":23.46,"y":95},{"s":"2.9 ns","x":23.52,"y":101},{"s":"2.9 ns","x":23.58,"y":106},{"s":"2.9 ns","x":23.64,"y":100},{"s":"2.9 ns","x":23.7,"y":109},{"s":"2.9 ns","x":23.76,"y":112},{"s":"2.9 ns","x":23.82,"y":115},{"s":"2.9 ns","x":23.88,"y":122},{"s":"2.9 ns","x":23.94,"y":116},{"s":"2.9 ns","x":24.0,"y":114},{"s":"2.9 ns","x":24.06,"y":110},{"s":"2.9 ns","x":24.12,"y":104},{"s":"2.9 ns","x":24.18,"y":95},{"s":"2.9 ns","x":24.24,"y":88},{"s":"2.9 ns","x":24.3,"y":82},{"s":"2.9 ns","x":24.36,"y":84},{"s":"2.9 ns","x":24.42,"y":76},{"s":"2.9 ns","x":24.48,"y":79},{"s":"2.9 ns","x":24.54,"y":73},{"s":"2.9 ns","x":24.6,"y":77},{"s":"2.9 ns","x":24.66,"y":70},{"s":"2.9 ns","x":24.72,"y":75},{"s":"2.9 ns","x":24.78,"y":69},{"s":"2.9 ns","x":24.84,"y":74},{"s":"2.9 ns","x":24.9,"y":71},{"s":"2.9 ns","x":24.96,"y":75},{"s":"2.9 ns","x":25.02,"y":69},{"s":"2.9 ns","x":25.08,"y":72},{"s":"2.9 ns","x":25.14,"y":67},{"s":"2.9 ns","x":25.2,"y":73},{"s":"2.9 ns","x":25.26,"y":65},{"s":"2.9 ns","x":25.32,"y":68},{"s":"2.9 ns","x":25.38,"y":74},{"s":"2.9 ns","x":25.44,"y":71},{"s":"2.9 ns","x":25.5,"y":78},
{"s":"1.0 ns","x":21.48,"y":44},{"s":"1.0 ns","x":21.54,"y":50},{"s":"1.0 ns","x":21.6,"y":46},{"s":"1.0 ns","x":21.66,"y":52},{"s":"1.0 ns","x":21.72,"y":48},{"s":"1.0 ns","x":21.78,"y":44},{"s":"1.0 ns","x":21.84,"y":53},{"s":"1.0 ns","x":21.9,"y":49},{"s":"1.0 ns","x":21.96,"y":47},{"s":"1.0 ns","x":22.02,"y":52},{"s":"1.0 ns","x":22.08,"y":56},{"s":"1.0 ns","x":22.14,"y":53},{"s":"1.0 ns","x":22.2,"y":60},{"s":"1.0 ns","x":22.26,"y":58},{"s":"1.0 ns","x":22.32,"y":70},{"s":"1.0 ns","x":22.38,"y":76},{"s":"1.0 ns","x":22.44,"y":90},{"s":"1.0 ns","x":22.5,"y":106},{"s":"1.0 ns","x":22.56,"y":118},{"s":"1.0 ns","x":22.6,"y":126},{"s":"1.0 ns","x":22.64,"y":134},{"s":"1.0 ns","x":22.68,"y":130},{"s":"1.0 ns","x":22.72,"y":133},{"s":"1.0 ns","x":22.78,"y":122},{"s":"1.0 ns","x":22.84,"y":110},{"s":"1.0 ns","x":22.9,"y":103},{"s":"1.0 ns","x":22.96,"y":90},{"s":"1.0 ns","x":23.02,"y":80},{"s":"1.0 ns","x":23.08,"y":66},{"s":"1.0 ns","x":23.14,"y":55},{"s":"1.0 ns","x":23.2,"y":48},{"s":"1.0 ns","x":23.26,"y":52},{"s":"1.0 ns","x":23.32,"y":47},{"s":"1.0 ns","x":23.38,"y":56},{"s":"1.0 ns","x":23.44,"y":60},{"s":"1.0 ns","x":23.5,"y":54},{"s":"1.0 ns","x":23.56,"y":50},{"s":"1.0 ns","x":23.62,"y":55},{"s":"1.0 ns","x":23.68,"y":51},{"s":"1.0 ns","x":23.74,"y":57},{"s":"1.0 ns","x":23.8,"y":45},{"s":"1.0 ns","x":23.86,"y":50},{"s":"1.0 ns","x":23.92,"y":56},{"s":"1.0 ns","x":23.98,"y":51},{"s":"1.0 ns","x":24.04,"y":48},{"s":"1.0 ns","x":24.1,"y":43},{"s":"1.0 ns","x":24.16,"y":40},{"s":"1.0 ns","x":24.22,"y":43},{"s":"1.0 ns","x":24.28,"y":38},{"s":"1.0 ns","x":24.34,"y":42},{"s":"1.0 ns","x":24.4,"y":36},{"s":"1.0 ns","x":24.46,"y":41},{"s":"1.0 ns","x":24.52,"y":38},{"s":"1.0 ns","x":24.58,"y":43},{"s":"1.0 ns","x":24.64,"y":37},{"s":"1.0 ns","x":24.7,"y":41},{"s":"1.0 ns","x":24.76,"y":44},{"s":"1.0 ns","x":24.82,"y":39},{"s":"1.0 ns","x":24.88,"y":43},{"s":"1.0 ns","x":24.94,"y":37},{"s":"1.0 ns","x":25.0,"y":41},{"s":"1.0 ns","x":25.06,"y":38},{"s":"1.0 ns","x":25.12,"y":42},{"s":"1.0 ns","x":25.18,"y":37},{"s":"1.0 ns","x":25.24,"y":44},{"s":"1.0 ns","x":25.3,"y":47},{"s":"1.0 ns","x":25.36,"y":43},{"s":"1.0 ns","x":25.42,"y":47},{"s":"1.0 ns","x":25.48,"y":44}
]
},
"resolve": {"scale": {"x": "independent", "y": "independent", "color": "shared", "fill": "shared"}, "legend": {"color": "independent"}},
"hconcat": [
{
 "width": 374, "height": 320,
 "title": {"text": "(a)", "orient": "bottom", "font": "Liberation Serif", "fontStyle": "italic", "fontWeight": "normal", "fontSize": 18, "offset": 13, "anchor": "middle", "color": "black"},
 "resolve": {"axis": {"x": "independent"}},
 "encoding": {
  "y": {"field": "y", "type": "quantitative", "scale": {"domain": [0, 320], "nice": false, "zero": false},
    "axis": {"title": "Intensity (a.u.)", "ticks": false, "labels": false, "domain": false, "titlePadding": 5, "titleX": -5, "titleY": 147}}
 },
 "layer": [
  {"data": {"name": "da"}, "mark": {"type": "square", "size": 9, "opacity": 1, "filled": true, "clip": true},
   "encoding": {
    "x": {"field": "x", "type": "quantitative", "scale": {"domain": [17.978, 22.043], "nice": false, "zero": false},
      "axis": {"orient": "bottom", "values": [18, 19, 20, 21, 22], "format": "d", "title": "2θ (°)", "tickSize": 16, "labelPadding": 5, "titlePadding": 20, "domain": false}},
    "fill": {"field": "s", "type": "nominal", "scale": {"domain": ["15.5 ns", "11.5 ns", "10.6 ns", "5.0 ns", "2.9 ns", "1.0 ns", "ambient"], "range": ["#e2402a", "#ef6b35", "#f6a532", "#62b847", "#38bec4", "#1f5cae", "#000000"]}, "legend": null}
   }},
  {"data": {"name": "la"}, "mark": {"type": "line", "interpolate": "monotone", "strokeWidth": 2.2, "clip": true},
   "encoding": {
    "x": {"field": "x", "type": "quantitative", "axis": {"orient": "bottom", "values": [18, 18.2, 18.4, 18.6, 18.8, 19, 19.2, 19.4, 19.6, 19.8, 20, 20.2, 20.4, 20.6, 20.8, 21, 21.2, 21.4, 21.6, 21.8, 22], "tickSize": 8, "labels": false, "domain": false, "title": null}},
    "color": {"field": "s", "type": "nominal", "scale": {"domain": ["15.5 ns", "11.5 ns", "10.6 ns", "5.0 ns", "2.9 ns", "1.0 ns", "ambient"], "range": ["#e2402a", "#ef6b35", "#f6a532", "#62b847", "#38bec4", "#1f5cae", "#000000"]}, "legend": {"title": null}}
   }},
  {"data": {"values": [{"t": "111", "x": 19.16, "y": 294}]}, "mark": {"type": "text", "fontSize": 21, "baseline": "middle", "color": "black"},
   "encoding": {
    "x": {"field": "x", "type": "quantitative", "axis": {"orient": "top", "values": [19.64, 19.95, 20.32, 20.8, 21.18, 21.78], "labelExpr": "datum.value < 19.8 ? '0' : datum.value < 20.1 ? '4' : datum.value < 20.5 ? '10' : datum.value < 21 ? '20' : datum.value < 21.5 ? '30' : '50'", "title": "Pressure (GPa)", "tickSize": 17, "labelPadding": 9, "titlePadding": 5, "domain": false}},
    "text": {"field": "t"}
   }}
 ]
},
{
 "width": 370, "height": 320,
 "view": {"stroke": null},
 "title": {"text": "(b)", "orient": "bottom", "font": "Liberation Serif", "fontStyle": "italic", "fontWeight": "normal", "fontSize": 18, "offset": 13, "anchor": "middle", "color": "black"},
 "resolve": {"axis": {"x": "independent"}},
 "encoding": {
  "y": {"field": "y", "type": "quantitative", "scale": {"domain": [0, 320], "nice": false, "zero": false},
    "axis": {"title": "Intensity (a.u.)", "ticks": false, "labels": false, "domain": true, "titlePadding": 5, "titleX": -5, "titleY": 147}}
 },
 "layer": [
  {"data": {"name": "db"}, "mark": {"type": "square", "size": 9, "opacity": 1, "filled": true, "clip": true},
   "encoding": {
    "x": {"field": "x", "type": "quantitative", "scale": {"domain": [21.459, 25.503], "nice": false, "zero": false},
      "axis": {"orient": "bottom", "values": [22, 23, 24, 25], "format": "d", "title": "2θ (°)", "tickSize": 16, "labelPadding": 5, "titlePadding": 20, "domain": true}},
    "fill": {"field": "s", "type": "nominal", "legend": null}
   }},
  {"data": {"name": "lb"}, "mark": {"type": "line", "interpolate": "monotone", "strokeWidth": 2.2, "clip": true},
   "encoding": {
    "x": {"field": "x", "type": "quantitative", "axis": {"orient": "bottom", "values": [21.6, 21.8, 22, 22.2, 22.4, 22.6, 22.8, 23, 23.2, 23.4, 23.6, 23.8, 24, 24.2, 24.4, 24.6, 24.8, 25, 25.2, 25.4], "tickSize": 8, "labels": false, "domain": false, "title": null}},
    "color": {"field": "s", "type": "nominal", "legend": {"title": null}}
   }},
  {"data": {"values": [{"t": "200", "x": 22.66, "y": 294}]}, "mark": {"type": "text", "fontSize": 21, "baseline": "middle", "color": "black"},
   "encoding": {
    "x": {"field": "x", "type": "quantitative", "axis": {"orient": "top", "values": [22.71, 23.06, 23.5, 24.07, 24.52, 24.88], "labelExpr": "datum.value < 22.9 ? '0' : datum.value < 23.3 ? '4' : datum.value < 23.8 ? '10' : datum.value < 24.3 ? '20' : datum.value < 24.7 ? '30' : '40'", "title": "Pressure (GPa)", "tickSize": 17, "labelPadding": 9, "titlePadding": 5, "domain": true}},
    "text": {"field": "t"}
   }}
 ]
}
]
}
